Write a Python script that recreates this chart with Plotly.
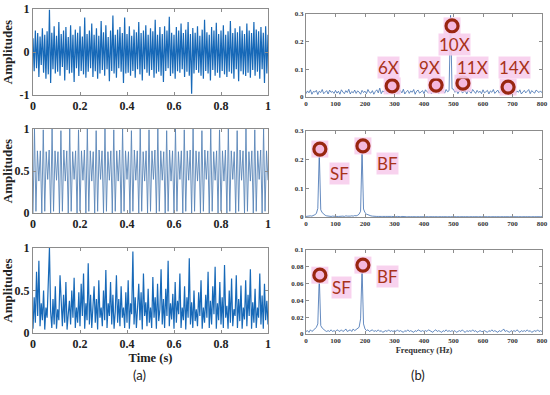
import plotly.graph_objects as go
from plotly.subplots import make_subplots

# ---------------- data ----------------
t_step = 0.005
t_vals = [round(i * t_step, 4) for i in range(201)]

sig_raw = [
    0.32,-0.45,0.5,-0.38,0.44,-0.58,0.36,-0.3,0.55,-0.48,0.4,-0.62,0.48,-0.52,0.98,-0.72,0.45,-0.4,0.6,-0.5,
    0.38,-0.46,0.7,-0.55,0.42,-0.35,0.5,-0.66,0.58,-0.42,0.35,-0.5,0.62,-0.48,0.4,-0.7,0.52,-0.38,0.45,-0.56,
    0.6,-0.44,0.36,-0.52,0.8,-0.6,0.42,-0.46,0.5,-0.38,0.66,-0.58,0.4,-0.45,0.55,-0.62,0.38,-0.5,0.72,-0.42,
    0.46,-0.55,0.62,-0.4,0.35,-0.68,0.5,-0.44,0.85,-0.5,0.4,-0.6,0.52,-0.38,0.58,-0.46,0.44,-0.72,0.8,-0.5,
    0.42,-0.48,0.6,-0.55,0.38,-0.44,0.52,-0.6,0.46,-0.4,0.7,-0.52,0.44,-0.66,0.5,-0.4,0.62,-0.48,0.4,-0.55,
    0.55,-0.42,0.48,-0.6,0.75,-0.5,0.4,-0.46,0.58,-0.55,0.42,-0.7,0.6,-0.44,0.5,-0.38,0.82,-0.56,0.45,-0.5,
    0.4,-0.62,0.58,-0.45,0.5,-0.48,0.66,-0.4,0.44,-0.58,0.52,-0.46,0.7,-0.55,0.42,-0.97,0.56,-0.5,0.45,-0.42,
    0.6,-0.48,0.38,-0.55,0.52,-0.62,0.75,-0.44,0.46,-0.5,0.4,-0.66,0.58,-0.42,0.5,-0.55,0.68,-0.48,0.42,-0.6,
    0.5,-0.44,0.62,-0.52,0.4,-0.58,0.48,-0.46,0.72,-0.5,0.44,-0.62,0.55,-0.4,0.46,-0.68,0.6,-0.45,0.5,-0.52,
    0.42,-0.56,0.66,-0.48,0.5,-0.6,0.44,-0.42,0.7,-0.55,0.52,-0.46,0.48,-0.62,0.58,-0.4,0.45,-0.72,0.6,-0.5,
    0.4,
]

sig_env = [
    0.05,0.42,0.12,0.72,0.2,0.85,0.08,0.35,0.15,0.5,0.04,0.3,0.18,0.62,1.0,0.25,0.06,0.4,0.1,0.55,
    0.05,0.28,0.15,0.68,0.3,0.08,0.45,0.12,0.6,0.04,0.22,0.38,0.1,0.5,0.18,0.65,0.06,0.3,0.12,0.48,
    0.08,0.58,0.2,0.7,0.05,0.35,0.15,0.82,0.1,0.45,0.06,0.25,0.55,0.12,0.4,0.04,0.62,0.18,0.3,0.08,
    0.5,0.15,0.74,0.06,0.35,0.2,0.6,0.1,0.45,0.05,0.25,0.68,0.12,0.4,0.08,0.55,0.18,0.3,0.06,0.48,
    0.12,0.62,0.05,0.35,0.22,0.96,0.1,0.42,0.06,0.3,0.58,0.15,0.48,0.04,0.7,0.2,0.36,0.08,0.52,0.12,
    0.3,0.06,0.66,0.18,0.42,0.05,0.58,0.14,0.28,0.75,0.1,0.4,0.06,0.52,0.2,0.85,0.08,0.35,0.16,0.46,
    0.05,0.6,0.12,0.38,0.22,0.7,0.06,0.3,0.15,0.55,0.04,0.42,0.18,0.88,0.1,0.36,0.06,0.5,0.14,0.28,
    0.08,0.48,0.2,0.62,0.05,0.3,0.12,0.45,0.18,0.72,0.06,0.38,0.1,0.55,0.22,0.78,0.05,0.35,0.15,0.6,
    0.1,0.42,0.06,0.8,0.18,0.32,0.05,0.5,0.12,0.64,0.08,0.28,0.2,0.68,0.06,0.4,0.14,0.56,0.05,0.3,
    0.16,0.62,0.08,0.45,0.2,0.75,0.05,0.36,0.12,0.52,0.06,0.3,0.18,0.7,0.1,0.44,0.05,0.58,0.15,0.38,
    0.1,
]

sig_pulse = [
    0.0,1.0,0.02,0.74,0.38,0.74, 0.0,0.99,0.02,0.73,0.4,0.75, 0.0,1.0,0.02,0.74,0.39,0.73,
    0.0,0.98,0.02,0.75,0.38,0.74, 0.0,1.0,0.02,0.73,0.4,0.74, 0.0,0.99,0.02,0.74,0.39,0.75,
    0.0,1.0,0.02,0.74,0.38,0.73, 0.0,0.98,0.02,0.75,0.4,0.74, 0.0,1.0,0.02,0.73,0.39,0.74,
    0.0,0.99,0.02,0.74,0.38,0.75, 0.0,1.0,0.02,0.74,0.4,0.73, 0.0,0.98,0.02,0.75,0.39,0.74,
    0.0,1.0,0.02,0.73,0.38,0.74, 0.0,0.99,0.02,0.74,0.4,0.75, 0.0,1.0,0.02,0.74,0.39,0.73,
    0.0,0.98,0.02,0.75,0.38,0.74, 0.0,1.0,0.02,0.73,0.4,0.74, 0.0,0.99,0.02,0.74,0.39,0.75,
    0.0,1.0,0.02,0.74,0.38,0.73, 0.0,0.98,0.02,0.75,0.4,0.74, 0.0,1.0,0.02,0.73,0.39,0.74,
    0.0,0.99,0.02,0.74,0.38,0.75, 0.0,1.0,0.02,0.74,0.4,0.73, 0.0,0.98,0.02,0.75,0.39,0.74,
    0.0,1.0,0.02,0.73,0.38,0.74, 0.0,0.99,0.02,0.74,0.4,0.75, 0.0,1.0,0.02,0.74,0.39,
]
tp_vals = [round(i / (len(sig_pulse) - 1), 5) for i in range(len(sig_pulse))]

f_vals = [i * 5 for i in range(161)]
spec_raw = [
    0.012,0.022,0.015,0.026,0.01,0.02,0.018,0.024,0.009,0.021,0.016,0.027,0.012,0.019,0.023,0.011,0.025,0.017,0.02,0.013,
    0.024,0.014,0.021,0.01,0.026,0.018,0.012,0.023,0.016,0.028,0.011,0.02,0.015,0.025,0.013,0.022,0.018,0.01,0.024,0.016,
    0.021,0.012,0.027,0.017,0.014,0.023,0.01,0.02,0.026,0.015,0.032,0.012,0.022,0.018,0.025,0.011,0.019,0.024,0.014,0.021,
    0.016,0.026,0.012,0.02,0.023,0.015,0.028,0.011,0.019,0.024,0.013,0.022,0.017,0.027,0.01,0.021,0.025,0.014,0.018,0.023,
    0.012,0.026,0.019,0.015,0.024,0.011,0.021,0.028,0.016,0.02,0.013,0.025,0.018,0.022,0.014,0.027,0.019,0.023,0.295,0.03,
    0.028,0.017,0.024,0.012,0.022,0.026,0.015,0.02,0.023,0.011,0.025,0.018,0.014,0.027,0.02,0.013,0.024,0.016,0.021,0.012,
    0.026,0.015,0.019,0.024,0.011,0.022,0.017,0.027,0.013,0.02,0.025,0.014,0.021,0.018,0.024,0.01,0.023,0.016,0.028,0.012,
    0.02,0.025,0.013,0.022,0.017,0.026,0.011,0.019,0.024,0.015,0.021,0.027,0.012,0.023,0.018,0.014,0.025,0.02,0.016,0.022,
    0.015,
]
spec_pulse = [
    0.002,0.003,0.002,0.004,0.003,0.005,0.008,0.012,0.03,0.225,0.025,0.015,0.01,0.006,0.004,0.003,0.004,0.002,0.003,0.002,
    0.003,0.002,0.002,0.003,0.002,0.003,0.002,0.004,0.003,0.002,0.003,0.004,0.003,0.005,0.004,0.006,0.01,0.02,0.236,0.028,
    0.015,0.01,0.007,0.005,0.004,0.003,0.002,0.003,0.002,0.002,0.003,0.002,0.002,0.001,0.002,0.002,0.001,0.002,0.002,0.001,
    0.002,0.001,0.002,0.001,0.001,0.002,0.001,0.002,0.001,0.001,0.002,0.001,0.001,0.002,0.001,0.001,0.002,0.001,0.001,0.002,
    0.001,0.001,0.002,0.001,0.001,0.002,0.001,0.001,0.002,0.001,0.001,0.002,0.001,0.001,0.002,0.001,0.001,0.002,0.001,0.001,
    0.002,0.001,0.001,0.002,0.001,0.001,0.002,0.001,0.001,0.002,0.001,0.001,0.002,0.001,0.001,0.002,0.001,0.001,0.002,0.001,
    0.001,0.002,0.001,0.001,0.002,0.001,0.001,0.002,0.001,0.001,0.002,0.001,0.001,0.002,0.001,0.001,0.002,0.001,0.001,0.002,
    0.001,0.001,0.002,0.001,0.001,0.002,0.001,0.001,0.002,0.001,0.001,0.002,0.001,0.001,0.002,0.001,0.001,0.002,0.001,0.001,
    0.001,
]
spec_env = [
    0.003,0.004,0.002,0.005,0.003,0.004,0.006,0.008,0.012,0.068,0.01,0.007,0.005,0.004,0.003,0.004,0.003,0.005,0.003,0.004,
    0.003,0.005,0.004,0.003,0.005,0.003,0.004,0.006,0.003,0.004,0.005,0.003,0.006,0.004,0.005,0.007,0.008,0.018,0.078,0.012,
    0.006,0.004,0.005,0.003,0.004,0.005,0.003,0.004,0.003,0.005,0.003,0.004,0.002,0.003,0.004,0.003,0.005,0.003,0.004,0.003,
    0.004,0.003,0.005,0.003,0.004,0.003,0.002,0.004,0.003,0.005,0.003,0.004,0.003,0.002,0.004,0.003,0.005,0.004,0.003,0.004,
    0.003,0.004,0.003,0.005,0.004,0.003,0.002,0.004,0.005,0.003,0.004,0.003,0.002,0.004,0.003,0.005,0.003,0.004,0.003,0.004,
    0.003,0.004,0.002,0.003,0.004,0.003,0.005,0.003,0.002,0.004,0.003,0.004,0.003,0.005,0.003,0.004,0.002,0.003,0.004,0.003,
    0.003,0.004,0.003,0.002,0.004,0.003,0.005,0.003,0.004,0.003,0.002,0.004,0.003,0.004,0.006,0.003,0.004,0.003,0.002,0.004,
    0.003,0.004,0.003,0.005,0.003,0.002,0.004,0.003,0.004,0.003,0.005,0.003,0.004,0.002,0.003,0.004,0.003,0.005,0.003,0.004,
    0.003,
]

# annotation marks (x, y, label, label_x, label_y)
raw_marks_x = [292, 441, 495, 532, 685]
raw_marks_y = [0.04, 0.043, 0.257, 0.05, 0.036]
raw_labels = ["6X", "9X", "10X", "11X", "14X"]
raw_label_x = [278, 420, 505, 563, 708]
raw_label_y = [0.105, 0.105, 0.188, 0.105, 0.105]

pulse_marks_x = [47, 193]
pulse_marks_y = [0.237, 0.248]
pulse_labels = ["SF", "BF"]
pulse_label_x = [115, 275]
pulse_label_y = [0.153, 0.188]

env_marks_x = [47, 193]
env_marks_y = [0.070, 0.082]
env_labels = ["SF", "BF"]
env_label_x = [119, 275]
env_label_y = [0.055, 0.068]

# ---------------- figure ----------------
fig = make_subplots(rows=3, cols=2)

time_col = "#1769b8"
pulse_col = "#5a86b8"
spec_col = "#3d6db0"

fig.add_trace(go.Scatter(x=t_vals, y=sig_raw, mode="lines", line=dict(color=time_col, width=1.2)), row=1, col=1)
fig.add_trace(go.Scatter(x=tp_vals, y=sig_pulse, mode="lines", line=dict(color=pulse_col, width=0.9)), row=2, col=1)
fig.add_trace(go.Scatter(x=t_vals, y=sig_env, mode="lines", line=dict(color=time_col, width=1.2)), row=3, col=1)

fig.add_trace(go.Scatter(x=f_vals, y=spec_raw, mode="lines", line=dict(color=spec_col, width=0.8)), row=1, col=2)
fig.add_trace(go.Scatter(x=f_vals, y=spec_pulse, mode="lines", line=dict(color=spec_col, width=0.8)), row=2, col=2)
fig.add_trace(go.Scatter(x=f_vals, y=spec_env, mode="lines", line=dict(color=spec_col, width=0.8)), row=3, col=2)

pink = "rgba(247,205,236,0.9)"
ring = "#992610"
txt_col = "#a8321a"

for r, mx, my, lab, lx, ly in [
    (1, raw_marks_x, raw_marks_y, raw_labels, raw_label_x, raw_label_y),
    (2, pulse_marks_x, pulse_marks_y, pulse_labels, pulse_label_x, pulse_label_y),
    (3, env_marks_x, env_marks_y, env_labels, env_label_x, env_label_y),
]:
    fig.add_trace(go.Scatter(x=mx, y=my, mode="markers",
                             marker=dict(symbol="square", size=17, color=pink, line=dict(width=0))),
                  row=r, col=2)
    fig.add_trace(go.Scatter(x=mx, y=my, mode="markers",
                             marker=dict(symbol="circle", size=12, color="#f4b8de",
                                         line=dict(color=ring, width=3.2))),
                  row=r, col=2)
    xref = "x%d" % (2 * r)
    yref = "y%d" % (2 * r)
    for lb, x0, y0 in zip(lab, lx, ly):
        fig.add_annotation(x=x0, y=y0, xref=xref, yref=yref, text=lb, showarrow=False,
                           font=dict(family="Lato, Liberation Sans, sans-serif", size=17, color=txt_col),
                           bgcolor=pink, borderpad=0)

H = 395.0
def dom(top, bot):
    return [1 - bot / H, 1 - top / H]

left_x = [33 / 550, 268 / 550]
right_x = [306 / 550, 542 / 550]
left_y = [dom(9, 95), dom(129, 213), dom(248, 333)]
right_y = [dom(14, 97), dom(131, 217), dom(250, 334)]

serif_bold = "Liberation Serif"
axcol = "#8c8c8c"
common = dict(showline=True, mirror="ticks", linecolor=axcol, linewidth=1, ticks="inside",
              ticklen=3, tickcolor=axcol, showgrid=False, zeroline=False, automargin=False)

left_yranges = [[-1, 1], [0, 1], [0, 1]]
left_yticks = [[-1, 0, 1], [0, 0.5, 1], [0, 0.5, 1]]
left_ytext = [["-1", "0", "1"], ["0", "0.5", "1"], ["0", "0.5", "1"]]
right_yranges = [[0, 0.3], [0, 0.3], [0, 0.1]]
right_yticks = [[0, 0.1, 0.2, 0.3], [0, 0.1, 0.2, 0.3], [0, 0.02, 0.04, 0.06, 0.08, 0.1]]
right_ytext = [["0", "0.1", "0.2", "0.3"], ["0", "0.1", "0.2", "0.3"],
               ["0", "0.02", "0.04", "0.06", "0.08", "0.1"]]

x_ticks_t = [0, 0.2, 0.4, 0.6, 0.8, 1]
x_text_t = ["0", "0.2", "0.4", "0.6", "0.8", "1"]
x_ticks_f = [0, 100, 200, 300, 400, 500, 600, 700, 800]
x_text_f = ["0", "100", "200", "300", "400", "500", "600", "700", "800"]

for r in range(1, 4):
    fig.update_xaxes(domain=left_x, range=[0, 1], tickvals=x_ticks_t,
                     ticktext=["<b>%s</b>" % s for s in x_text_t],
                     tickfont=dict(family=serif_bold, size=12, color="#222"), row=r, col=1, **common)
    fig.update_yaxes(domain=left_y[r - 1], range=left_yranges[r - 1], tickvals=left_yticks[r - 1],
                     ticktext=["<b>%s</b>" % s for s in left_ytext[r - 1]],
                     tickfont=dict(family=serif_bold, size=12, color="#222"),
                     title=dict(text="<b>Amplitudes</b>", font=dict(family=serif_bold, size=13, color="#222"),
                                standoff=4),
                     row=r, col=1, **common)
    fig.update_xaxes(domain=right_x, range=[0, 800], tickvals=x_ticks_f,
                     ticktext=["<b>%s</b>" % s for s in x_text_f],
                     tickfont=dict(family=serif_bold, size=7, color="#333"), row=r, col=2, **common)
    fig.update_yaxes(domain=right_y[r - 1], range=right_yranges[r - 1], tickvals=right_yticks[r - 1],
                     ticktext=["<b>%s</b>" % s for s in right_ytext[r - 1]],
                     tickfont=dict(family=serif_bold, size=7, color="#333"), row=r, col=2, **common)

fig.update_xaxes(title=dict(text="<b>Time (s)</b>", font=dict(family=serif_bold, size=12.5, color="#222"),
                            standoff=0), row=3, col=1)
fig.update_xaxes(title=dict(text="<b>Frequency (Hz)</b>", font=dict(family=serif_bold, size=8.5, color="#333"),
                            standoff=0), row=3, col=2)

fig.add_annotation(x=140 / 550, y=1 - 375 / H, xref="paper", yref="paper", text="(a)", showarrow=False,
                   yanchor="middle", xanchor="center",
                   font=dict(family="Lato, sans-serif", size=13, color="#222"))
fig.add_annotation(x=418 / 550, y=1 - 375 / H, xref="paper", yref="paper", text="(b)", showarrow=False,
                   yanchor="middle", xanchor="center",
                   font=dict(family="Lato, sans-serif", size=13, color="#222"))

fig.update_layout(width=550, height=395, margin=dict(l=0, r=0, t=0, b=0),
                  paper_bgcolor="white", plot_bgcolor="white", showlegend=False)

fig.write_html("out.html", config={"displayModeBar": False},
               post_script="document.body.style.margin='0';document.body.style.overflow='hidden';")
